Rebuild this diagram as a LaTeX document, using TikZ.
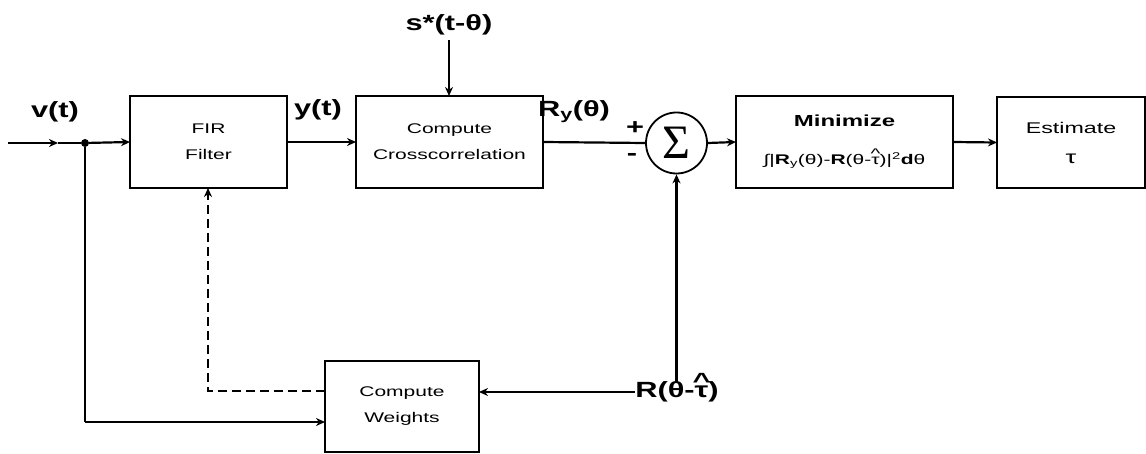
\documentclass[tikz,border=0pt]{standalone}
\usepackage{fontspec}
\setmainfont{Liberation Sans}[FakeStretch=1.4]
\newfontfamily\boxfont{Liberation Sans}[FakeStretch=1.5]
\newfontfamily\sigfont{Liberation Serif}
\usetikzlibrary{arrows.meta}
\newcommand{\tauhat}{{\ooalign{τ\cr\hidewidth\raisebox{0.42em}{\^{}}\hidewidth\cr}}}
\begin{document}
\begin{tikzpicture}[x=1pt,y=-1pt,
  box/.style={draw, line width=2pt, inner sep=0pt, outer sep=0pt, align=center,
    font=\boxfont\fontsize{14}{26}\selectfont},
  lab/.style={font=\bfseries\fontsize{22}{24}\selectfont, inner sep=0pt},
  arr/.style={line width=2.2pt, -{Stealth[length=9pt,width=8pt]}},
  ln/.style={line width=2.2pt},
  dsh/.style={line width=2.4pt, dash pattern=on 9pt off 5pt, -{Stealth[length=9pt,width=8pt]}}
]
\useasboundingbox (0,0) rectangle (1146,454);

% boxes
\node[box, minimum width=157pt, minimum height=92pt] (fir) at (208.5,142) {FIR\\Filter};
\node[box, minimum width=187pt, minimum height=92pt] (cc) at (449.5,142) {Compute\\Crosscorrelation};
\node[box, minimum width=217pt, minimum height=92pt] (mn) at (844.5,142)
  {{\bfseries\fontsize{16}{20}\selectfont Minimize}\\[12pt]
   ∫|\textbf{R}\textsubscript{y}(θ)-\textbf{R}(θ-\tauhat)|\textsuperscript{2}\textbf{d}θ};
\node[box, minimum width=148pt, minimum height=91pt] (est) at (1071,142.5)
  {\fontsize{15.5}{20}\selectfont Estimate\\[4pt]{\fontsize{18}{20}\selectfont τ}};
\node[box, minimum width=154pt, minimum height=91pt] (cw) at (402,406.5) {Compute\\Weights};

% sigma
\node[draw, circle, line width=1.8pt, minimum size=61pt, inner sep=0pt,
  font=\sigfont\fontsize{48}{48}\selectfont] (sig) at (676.5,143) {\raisebox{-1pt}{Σ}};

% labels
\node[lab] (vt) at (55,112) {v(t)};
\node[lab] (yt) at (318,110) {y(t)};
\node[lab] (st) at (449,25) {s*(t-θ)};
\node[lab] (ry) at (574,112) {R\textsubscript{y}(θ)};
\node[lab] (pl) at (635,128) {+};
\node[lab] (mi) at (632,157) {-};
\node[lab] (rt) at (677,392) {R(θ-\tauhat)};

% coordinates
\coordinate (in) at (8,143);
\coordinate (mida) at (58,143);
\node[circle, fill, inner sep=0pt, minimum size=8pt] (jn) at (85,143) {};
\coordinate (jb) at (85,422);
\coordinate (dc) at (208,391);
\coordinate (stb) at (449,40);

% connectors
\draw[arr] (in) -- (mida);
\draw[ln] (mida) -- (jn);
\draw[arr] (jn) -- (fir.west);
\draw[arr] (fir.east) -- (cc.west);
\draw[arr] (stb) -- (cc.north -| stb);
\draw[ln] (cc.east) -- (sig.west);
\draw[arr] (sig.east) -- (mn.west);
\draw[arr] (mn.east) -- (est.west);
\draw[arr] (rt.north -| sig.south) -- (sig.south);
\draw[arr] (rt.west) -- (cw.east |- rt.west);
\draw[ln] (jn) -- (jb);
\draw[arr] (jb) -- (jb -| cw.west);
\draw[dsh] (cw.west |- dc) -- (dc) -- (dc |- fir.south);
\end{tikzpicture}
\end{document}
